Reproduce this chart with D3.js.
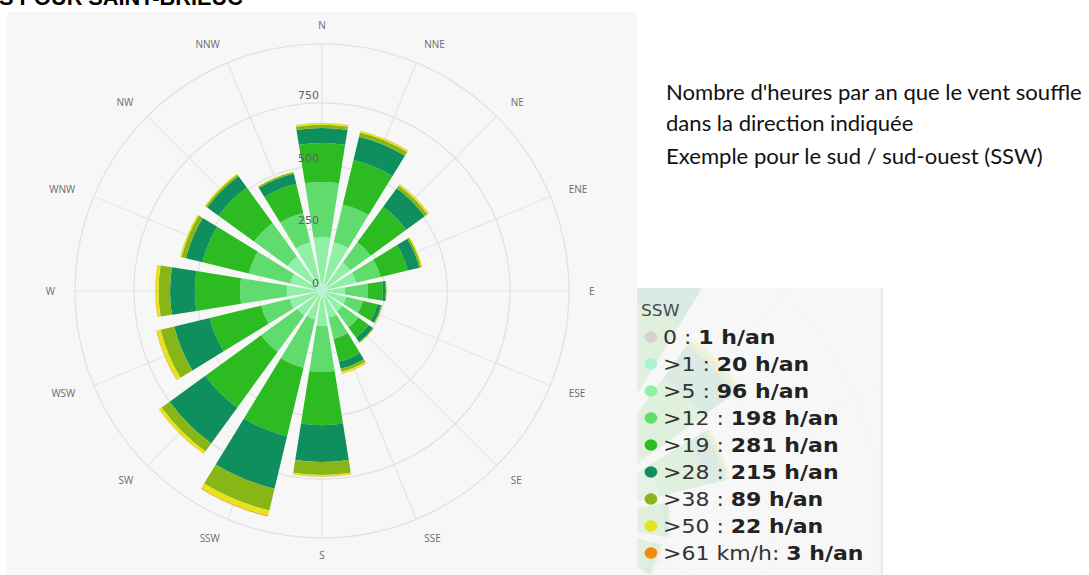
<!DOCTYPE html>
<html><head><meta charset="utf-8">
<script src="https://cdn.jsdelivr.net/npm/d3@7"></script>
<style>
html,body{margin:0;padding:0;background:#fff;overflow:hidden}
svg{display:block}
</style></head><body>
<svg id="chart" width="1089" height="575"></svg>
<script>
// ---- data ----
const directions = ["N","NNE","NE","ENE","E","ESE","SE","SSE","S","SSW","SW","WSW","W","WNW","NW","NNW"];
const binLabels = ["0", ">1", ">5", ">12", ">19", ">28", ">38", ">50", ">61 km/h"];
const binColors = ["#d9d1d1", "#a9f2d4", "#8ff0a6", "#60dc6f", "#2cbc22", "#0f8e5e", "#88b616", "#e6e31a", "#f08a0c"];
// hours per year, per speed bin, per direction (N ... NNW)
const calm0   = [2, 2, 2, 2, 2, 2, 2, 2, 2, 1, 1, 1, 1, 1, 2, 2];
const over1   = [28, 28, 23, 23, 20, 20, 20, 22, 25, 20, 20, 22, 21, 22, 25, 28];
const over5   = [185, 170, 115, 115, 70, 78, 78, 86, 113, 96, 100, 110, 118, 107, 143, 170];
const over12  = [220, 155, 100, 100, 91, 68, 80, 87, 183, 198, 180, 117, 187, 170, 165, 120];
const over19  = [155, 182, 175, 111, 60, 59, 51, 93, 212, 281, 274, 210, 180, 190, 175, 120];
const over28  = [60, 96, 92, 48, 12, 16, 20, 29, 147, 215, 176, 146, 99, 68, 56, 42];
const over38  = [13, 17, 13, 8, 3, 4, 4, 12, 52, 89, 40, 56, 46, 18, 8, 6];
const over50  = [6, 6, 6, 4, 1, 1, 1, 7, 6, 22, 12, 16, 12, 6, 4, 2];
const over61  = [1, 1, 1, 0, 0, 0, 0, 1, 1, 3, 1, 2, 1, 0, 0, 0];
const radialTicks = [0, 250, 500, 750];
const radialMax = 985;
const legendDirection = "SSW";
const titleText = "S POUR SAINT-BRIEUC";
const noteLines = ["Nombre d'heures par an que le vent souffle", "dans la direction indiquée", "Exemple pour le sud / sud-ouest (SSW)"];

// ---- build ----
const seriesList = [calm0, over1, over5, over12, over19, over28, over38, over50, over61];
const keys = seriesList.map((_, i) => "b" + i);
const rows = directions.map((d, i) => {
  const o = {dir: d};
  seriesList.forEach((s, k) => o[keys[k]] = s[i]);
  return o;
});
const stacked = d3.stack().keys(keys)(rows);

const svg = d3.select("#chart");
const W = 1089, H = 575;

// title (partially clipped at top, as in the reference)
const title = svg.append("text").attr("x", -1).attr("y", 5)
  .attr("font-family", "Liberation Sans, Arial, sans-serif").attr("font-weight", "bold")
  .attr("font-size", 20).attr("fill", "#000").text(titleText);
{ const w = title.node().getComputedTextLength(); title.attr("font-size", 20 * 244 / w); }

// chart panel
svg.append("rect").attr("x", 7).attr("y", 12).attr("width", 630).attr("height", H - 12).attr("fill", "#f7f7f7");

function drawRose(g, cx, cy, k, opts) {
  const r = d3.scaleLinear().domain([0, radialMax]).range([0, 247 * k]);
  const ang = d3.scaleBand().domain(directions).range([-Math.PI / 16, 2 * Math.PI - Math.PI / 16])
    .paddingInner(0.2).paddingOuter(0.1);
  const root = g.append("g").attr("transform", `translate(${cx},${cy})`);
  // grid
  const grid = root.append("g");
  radialTicks.filter(t => t > 0).concat([radialMax]).forEach(t => {
    grid.append("circle").attr("r", r(t)).attr("fill", "none").attr("stroke", "#dfe0e3").attr("stroke-width", 1.2);
  });
  directions.forEach(d => {
    const a = ang(d) + ang.bandwidth() / 2;
    grid.append("line").attr("x1", 0).attr("y1", 0)
      .attr("x2", r(radialMax) * Math.sin(a)).attr("y2", -r(radialMax) * Math.cos(a))
      .attr("stroke", "#e4e5e8").attr("stroke-width", 1.2);
  });
  // sectors
  const arc = d3.arc();
  stacked.forEach((layer, k2) => {
    root.append("g").selectAll("path").data(layer).join("path")
      .attr("d", d => arc({innerRadius: r(d[0]), outerRadius: r(d[1]),
        startAngle: ang(d.data.dir), endAngle: ang(d.data.dir) + ang.bandwidth()}))
      .attr("fill", binColors[k2]);
  });
  if (!opts.labels) return;
  // direction labels
  directions.forEach(d => {
    const a = ang(d) + ang.bandwidth() / 2;
    const rr = 267;
    const x = rr * Math.sin(a), y = -rr * Math.cos(a);
    const s = Math.sin(a);
    const anchor = Math.abs(s) < 0.01 ? "middle" : (s > 0 ? "start" : "end");
    root.append("text").attr("x", x).attr("y", y + (Math.abs(s) < 0.01 ? (y < 0 ? 1 : -3) : 0))
      .attr("text-anchor", anchor).attr("dominant-baseline", "central")
      .attr("font-family", "Open Sans, DejaVu Sans, sans-serif").attr("font-size", 10)
      .attr("fill", "#6b6b6b").text(d);
  });
  // radial tick labels
  radialTicks.forEach(t => {
    root.append("text").attr("x", -3).attr("y", -r(t) - 4)
      .attr("text-anchor", "end").attr("font-family", "DejaVu Sans, sans-serif")
      .attr("font-size", 11).attr("fill", "#5f5f5f").text(d3.format("d")(t));
  });
}

drawRose(svg, 322, 291, 1, {labels: true});

// note text
const noteG = svg.append("g").attr("font-family", "Lato, Open Sans, sans-serif").attr("fill", "#111");
const nl = noteLines.map((t, i) => noteG.append("text").attr("x", 666).attr("y", [100, 131, 164][i]).attr("font-size", 16).text(t));
{ const w = nl[0].node().getComputedTextLength(); const fs = 16 * 416 / w; nl.forEach(n => n.attr("font-size", fs)); }

// inset legend (tooltip screenshot with a faded chart behind it)
const clip = svg.append("defs").append("clipPath").attr("id", "insetClip");
clip.append("rect").attr("x", 637).attr("y", 288).attr("width", 245).attr("height", H - 288);
const inset = svg.append("g").attr("clip-path", "url(#insetClip)");
inset.append("rect").attr("x", 637).attr("y", 288).attr("width", 245).attr("height", H - 288).attr("fill", "#f6f7f6");
const ghost = inset.append("g").attr("opacity", 0.11);
drawRose(ghost, 560, 520, 1.7, {labels: false});
svg.append("line").attr("x1", 882).attr("x2", 882).attr("y1", 288).attr("y2", H).attr("stroke", "#d6d6d6");

const di = directions.indexOf(legendDirection);
const lg = svg.append("g").attr("transform", "translate(641,0) scale(1.1,1) translate(-641,0)")
  .attr("font-family", "DejaVu Sans, sans-serif");
lg.append("text").attr("x", 641).attr("y", 316).attr("font-size", 15.5).attr("fill", "#4a4a4a").text(legendDirection);
seriesList.forEach((s, k) => {
  const y = 344 + k * 27;
  lg.append("circle").attr("cx", 650).attr("cy", y - 7).attr("r", 5.8).attr("fill", binColors[k]);
  const t = lg.append("text").attr("x", 661).attr("y", y).attr("font-size", 20).attr("fill", "#333");
  t.append("tspan").text(binLabels[k] + (k === seriesList.length - 1 ? ": " : " : "));
  t.append("tspan").attr("font-weight", "bold").attr("fill", "#222").text(s[di] + " h/an");
});
</script>
</body></html>
